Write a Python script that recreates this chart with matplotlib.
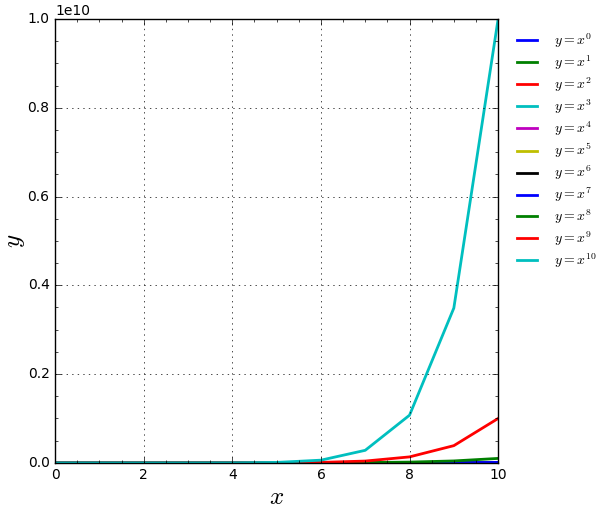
import matplotlib
matplotlib.use("Agg")
import matplotlib.pyplot as plt

plt.style.use("classic")
plt.rcParams["mathtext.fontset"] = "cm"

x_values = [0, 1, 2, 3, 4, 5, 6, 7, 8, 9, 10]
exponents = [0, 1, 2, 3, 4, 5, 6, 7, 8, 9, 10]
y_p0 = [1, 1, 1, 1, 1, 1, 1, 1, 1, 1, 1]
y_p1 = [0, 1, 2, 3, 4, 5, 6, 7, 8, 9, 10]
y_p2 = [0, 1, 4, 9, 16, 25, 36, 49, 64, 81, 100]
y_p3 = [0, 1, 8, 27, 64, 125, 216, 343, 512, 729, 1000]
y_p4 = [0, 1, 16, 81, 256, 625, 1296, 2401, 4096, 6561, 10000]
y_p5 = [0, 1, 32, 243, 1024, 3125, 7776, 16807, 32768, 59049, 100000]
y_p6 = [0, 1, 64, 729, 4096, 15625, 46656, 117649, 262144, 531441, 1000000]
y_p7 = [0, 1, 128, 2187, 16384, 78125, 279936, 823543, 2097152, 4782969, 10000000]
y_p8 = [0, 1, 256, 6561, 65536, 390625, 1679616, 5764801, 16777216, 43046721, 100000000]
y_p9 = [0, 1, 512, 19683, 262144, 1953125, 10077696, 40353607, 134217728, 387420489, 1000000000]
y_p10 = [0, 1, 1024, 59049, 1048576, 9765625, 60466176, 282475249, 1073741824, 3486784401, 10000000000]
series = [y_p0, y_p1, y_p2, y_p3, y_p4, y_p5, y_p6, y_p7, y_p8, y_p9, y_p10]
colors = ["b", "g", "r", "c", "m", "y", "k", "b", "g", "r", "c"]

fig = plt.figure(figsize=(6.06, 5.12), dpi=100, facecolor="white")
ax = fig.add_axes([0.091, 0.096, 0.731, 0.867])
for n, ys, c in zip(exponents, series, colors):
    ax.plot(x_values, ys, color=c, lw=2, label=r"$y = x^{%d}$" % n)

ax.set_xlim(0, 10)
ax.set_ylim(0, 1e10)
ax.minorticks_on()
ax.grid(True, which="major")
ax.set_xlabel(r"$x$", fontsize=18, labelpad=2)
ax.set_ylabel(r"$y$", fontsize=18)
ax.yaxis.set_label_coords(-0.063, 0.5)
ax.tick_params(labelsize=10)
ax.yaxis.get_offset_text().set_fontsize(10)
ax.legend(loc="upper left", bbox_to_anchor=(1.006, 1.0), frameon=False,
          fontsize=10, handlelength=2.0, handletextpad=0.95, labelspacing=0.24)
fig.savefig("out.png", dpi=100, facecolor="white")
